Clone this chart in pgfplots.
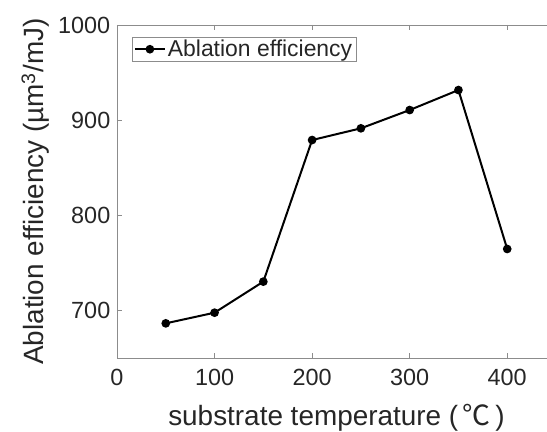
\documentclass[border=0pt]{standalone}
\usepackage{pgfplots}
\pgfplotsset{compat=1.18}
\usepackage{fontspec}
\setmainfont{Liberation Sans}
\newfontfamily\cjk{Noto Sans CJK SC}
\definecolor{axgray}{gray}{0.55}
\definecolor{txt}{gray}{0.15}
\begin{document}
\begin{tikzpicture}
\begin{axis}[
  scale only axis, width=439bp, height=333.3bp,
  xmin=0, xmax=450, ymin=650, ymax=1000,
  xtick={0,100,200,300,400}, ytick={700,800,900,1000},
  tick align=inside, major tick length=5bp,
  axis line style={axgray, line width=0.8bp},
  tick style={axgray, line width=0.8bp},
  /pgf/number format/assume math mode=true,
  /pgf/number format/set thousands separator={},
  ticklabel style={font=\fontsize{23.5}{27}\selectfont, text=txt},
  xticklabel style={yshift=-7.2bp},
  yticklabel style={xshift=-3.2bp},
  xlabel={substrate temperature (\,{\cjk ℃}\,)},
  ylabel={Ablation efficiency (µm\textsuperscript{3}/mJ)},
  label style={font=\fontsize{28}{32}\selectfont, text=txt},
  xlabel style={at={([yshift=-66.7bp]axis description cs:0.5,0)}, anchor=base},
  ylabel style={at={([xshift=-73bp]axis description cs:0,0.5)}, anchor=base},
  legend style={at={(rel axis cs:0.0335,0.964)}, anchor=north west, draw=axgray,
    font=\fontsize{23}{27}\selectfont, text=txt, inner xsep=2bp, inner ysep=1bp},
  legend cell align=left,
  legend image code/.code={\draw[mark repeat=2,mark phase=2] plot coordinates {(0bp,0bp)(15bp,0bp)(30bp,0bp)};},
]
\addplot[black, line width=2bp, mark=*, mark size=3.3bp] coordinates {
  (50,686.7) (100,697.9) (150,730.5) (200,879.2) (250,891.5) (300,910.7) (350,931.7) (400,764.8)
};
\addlegendentry{Ablation efficiency}
\end{axis}
\pgfresetboundingbox
\path ([xshift=-117bp, yshift=-73.7bp]current axis.south west) rectangle ++(547bp,432bp);
\end{tikzpicture}
\end{document}
